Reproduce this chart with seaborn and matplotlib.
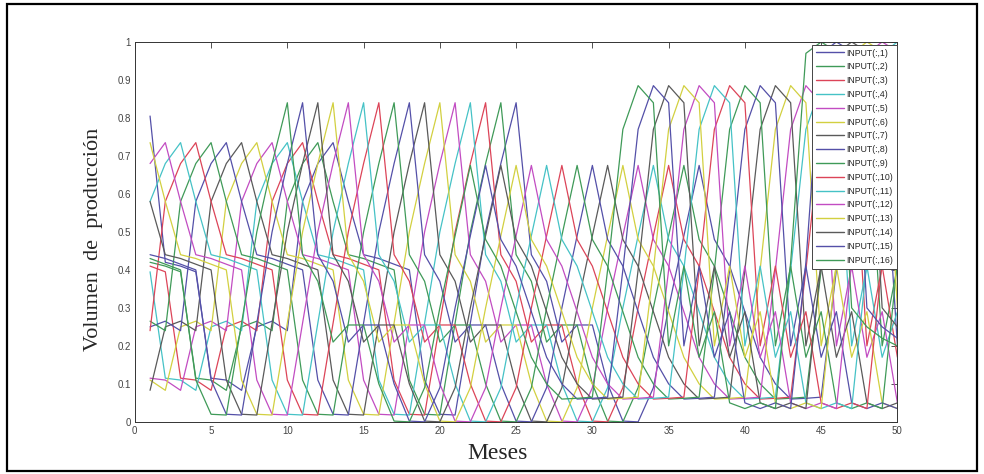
import matplotlib
matplotlib.use("Agg")
import pandas as pd
import matplotlib.pyplot as plt
from matplotlib.patches import Rectangle
import seaborn as sns

# serie base (normalizada), meses 0..64
# cada INPUT(:,k) es la misma serie con un retardo de k-1 meses
produccion = [0.805, 0.42, 0.41, 0.395, 0.115, 0.11, 0.083, 0.25, 0.265, 0.24,
              0.58, 0.68, 0.735, 0.58, 0.44, 0.43, 0.415, 0.40, 0.11, 0.02,
              0.018, 0.26, 0.50, 0.68, 0.84, 0.44, 0.37, 0.21, 0.255, 0.255,
              0.10, 0.002, 0.0, 0.09, 0.30, 0.49, 0.675, 0.48, 0.41, 0.29,
              0.17, 0.10, 0.06, 0.062, 0.065, 0.40, 0.77, 0.885, 0.84, 0.20,
              0.41, 0.17, 0.29, 0.05, 0.035, 0.05, 0.035, 0.42, 0.97, 1.0,
              0.975, 0.30, 0.25, 0.22, 0.20]
meses = list(range(1, 51))
etiquetas = ["INPUT(:,%d)" % k for k in range(1, 17)]
x_ticks = list(range(0, 51, 5))
y_ticks = [0, 0.1, 0.2, 0.3, 0.4, 0.5, 0.6, 0.7, 0.8, 0.9, 1]
y_ticklabels = ["0", "0.1", "0.2", "0.3", "0.4", "0.5", "0.6", "0.7", "0.8", "0.9", "1"]

# colores tipo matlab (b g r c m y k), algo lavados como en la imagen
ciclo = ["#5450a8", "#3f9a58", "#dc4458", "#45c2c6", "#c24cc2", "#d2d040", "#5a5a5a"]
colores = [ciclo[i % 7] for i in range(16)]

filas = []
for k, nombre in enumerate(etiquetas):
    for i, m in enumerate(meses):
        filas.append((m, produccion[k + i], nombre))
df = pd.DataFrame(filas, columns=["mes", "volumen", "serie"])

sns.set_style("white")
plt.rcParams["font.family"] = ["Liberation Sans", "DejaVu Sans"]

fig = plt.figure(figsize=(9.84, 4.74), dpi=100)
ax = fig.add_axes([0.137, 0.110, 0.775, 0.8015])

sns.lineplot(data=df, x="mes", y="volumen", hue="serie", hue_order=etiquetas,
             palette=colores, linewidth=0.9, ax=ax, sort=False)

ax.set_xlim(0, 50)
ax.set_ylim(0, 1)
ax.set_xticks(x_ticks)
ax.set_yticks(y_ticks)
ax.set_yticklabels(y_ticklabels)
ax.tick_params(direction="in", length=4, width=0.6, top=True, right=True,
               labelsize=7, labelcolor="#444444", color="#333333", pad=3)
for sp in ax.spines.values():
    sp.set_visible(True)
    sp.set_linewidth(0.7)
    sp.set_color("#333333")

ax.set_xlabel("Meses", family="Liberation Serif", fontsize=17)
ax.set_ylabel("Volumen  de  producción", family="Liberation Serif", fontsize=16)
ax.xaxis.set_label_coords(0.476, -0.055)
ax.yaxis.set_label_coords(-0.042, 0.48)

handles, labels = ax.get_legend_handles_labels()
leg = ax.legend(handles, labels, loc="upper right", bbox_to_anchor=(1.0, 0.993),
                borderaxespad=0, fontsize=6.3, handlelength=3.3, handletextpad=0.25,
                labelspacing=0.55, frameon=True, fancybox=False, framealpha=1,
                edgecolor="#444444", borderpad=0.45)
leg.get_frame().set_linewidth(0.7)
for line in leg.get_lines():
    line.set_linewidth(1.0)

# marco negro alrededor de la figura
fig.patches.append(Rectangle((7 / 984, 3 / 474), 970 / 984, 467 / 474,
                             transform=fig.transFigure, fill=False,
                             linewidth=1.6, edgecolor="black"))

fig.savefig("out.png", dpi=100)
